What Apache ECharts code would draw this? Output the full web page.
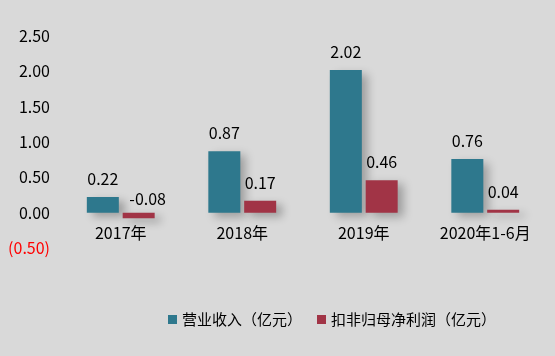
<!DOCTYPE html>
<html><head><meta charset="utf-8">
<script src="https://cdn.jsdelivr.net/npm/echarts@6/dist/echarts.min.js"></script>
<style>html,body{margin:0;padding:0;background:#d9d9d9;}#c{width:555px;height:356px;}</style>
</head><body><div id="c"></div>
<script>
var categories = ['2017年', '2018年', '2019年', '2020年1-6月'];
var revenue = [0.22, 0.87, 2.02, 0.76];
var netProfit = [-0.08, 0.17, 0.46, 0.04];
var seriesNames = ['营业收入（亿元）', '扣非归母净利润（亿元）'];
var yTickValues = [-0.5, 0, 0.5, 1, 1.5, 2, 2.5];
var yTickLabels = ['(0.50)', '0.00', '0.50', '1.00', '1.50', '2.00', '2.50'];

var font = '"Noto Sans CJK SC", "Microsoft YaHei", sans-serif';
var chart = echarts.init(document.getElementById('c'));
function lbl(v){
  var i = yTickValues.findIndex(function(t){return Math.abs(t - v) < 1e-6;});
  return i >= 0 ? yTickLabels[i] : '';
}
var shadow = {shadowBlur: 9, shadowColor: 'rgba(0,0,0,0.28)', shadowOffsetX: 6, shadowOffsetY: 4};
chart.setOption({
  backgroundColor: '#d9d9d9',
  animation: false,
  textStyle: {fontFamily: font},
  grid: {left: 60, right: 9, top: 36, bottom: 108},
  legend: {
    bottom: 24, left: 163, itemWidth: 9, itemHeight: 9, itemGap: 15,
    icon: 'rect',
    textStyle: {fontSize: 15, color: '#000', fontFamily: font},
    data: seriesNames
  },
  xAxis: {
    type: 'category', data: categories,
    axisLine: {show: false},
    axisTick: {show: false},
    axisLabel: {fontSize: 16, color: '#000', margin: -23, fontFamily: font}
  },
  yAxis: {
    type: 'value', min: -0.5, max: 2.5, interval: 0.5,
    splitLine: {show: false}, axisLine: {show: false}, axisTick: {show: false},
    axisLabel: {
      fontSize: 16, margin: 10, fontFamily: font,
      formatter: lbl,
      color: function(v){ return v < 0 ? '#ff0000' : '#000'; }
    }
  },
  series: [
    {
      name: seriesNames[0], type: 'bar', data: revenue,
      barWidth: 32, barGap: '12%',
      itemStyle: Object.assign({color: '#2e788d'}, shadow),
      label: {show: true, position: 'top', distance: 10, fontSize: 16, color: '#000',
        formatter: function(p){return p.value.toFixed(2);}}
    },
    {
      name: seriesNames[1], type: 'bar',
      data: netProfit.map(function(v){
        return v < 0 ? {value: v, label: {position: 'insideBottom', offset: [9, -1]}} : v;
      }),
      barWidth: 32,
      itemStyle: Object.assign({color: '#a13446'}, shadow),
      label: {show: true, position: 'top', distance: 10, fontSize: 16, color: '#000',
        formatter: function(p){return p.value.toFixed(2);}}
    }
  ]
});
</script></body></html>
